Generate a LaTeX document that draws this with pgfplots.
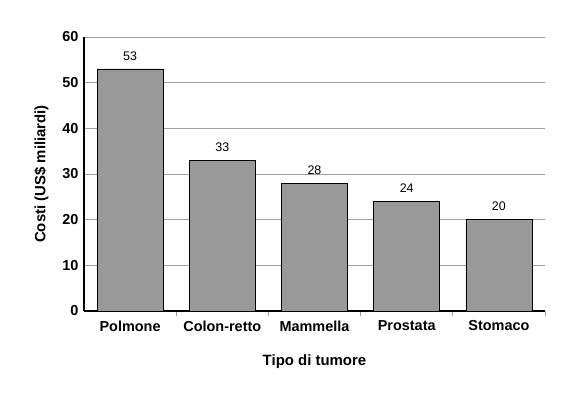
\documentclass[border=0pt]{standalone}
\usepackage{pgfplots}
\pgfplotsset{compat=1.18}
\usepackage{fontspec}
\setmainfont{Liberation Sans}
\definecolor{bargray}{HTML}{999999}
\definecolor{gridgray}{HTML}{A0A0A0}
\begin{document}
\begin{tikzpicture}
\path[use as bounding box] (-84bp,-85bp) rectangle (492bp,311bp);
\begin{axis}[
  at={(0,0)}, anchor=south west,
  width=461bp, height=274bp, scale only axis,
  xmin=0, xmax=5, ymin=0, ymax=60,
  ytick={0,10,20,30,40,50,60},
  axis x line*=bottom, axis y line*=left,
  axis line style={black, line width=1.5pt, -},
  ymajorgrids, grid style={gridgray, line width=0.8pt},
  xtick={0.5,1.5,2.5,3.5,4.5},
  xticklabels={Polmone,Colon-retto,Mammella,Prostata,Stomaco},
  major x tick style={draw=none},
  minor xtick={1,2,3,4,5},
  xtick align=inside,
  minor tick length=5bp,
  minor x tick style={gridgray, line width=0.8pt},
  major y tick style={draw=none},
  /pgf/number format/assume math mode=true,
  ticklabel style={font=\bfseries\fontsize{14.5}{16}\selectfont},
  xticklabel style={yshift=-2bp},
  yticklabel style={xshift=-2bp},
  xlabel={Tipo di tumore}, ylabel={Costi (US\$ miliardi)},
  label style={font=\bfseries\fontsize{15}{17}\selectfont},
  xlabel style={yshift=-16bp},
  ylabel style={yshift=7bp},
  ybar, bar width=66bp,
  nodes near coords,
  nodes near coords style={font=\fontsize{12.5}{14}\selectfont, yshift=5bp, black},
]
\addplot[fill=bargray, draw=black, line width=0.8pt] coordinates {(0.5,53) (1.5,33) (2.5,28) (3.5,24) (4.5,20)};
\end{axis}
\end{tikzpicture}
\end{document}
